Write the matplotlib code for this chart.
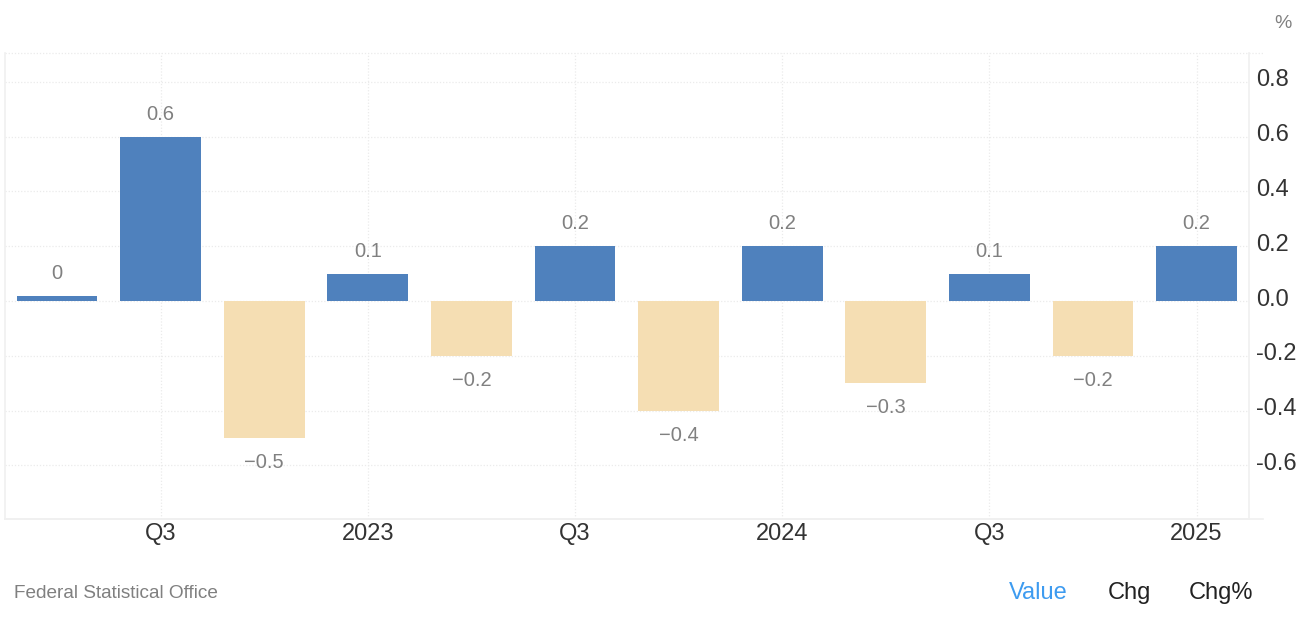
import matplotlib
matplotlib.use('Agg')
import matplotlib.pyplot as plt
from matplotlib.transforms import ScaledTranslation

# values
quarters = [0, 1, 2, 3, 4, 5, 6, 7, 8, 9, 10, 11]
values = [0.02, 0.6, -0.5, 0.1, -0.2, 0.2, -0.4, 0.2, -0.3, 0.1, -0.2, 0.2]
bar_labels = ['0', '0.6', '\u22120.5', '0.1', '\u22120.2', '0.2', '\u22120.4', '0.2', '\u22120.3', '0.1', '\u22120.2', '0.2']
xtick_pos = [1, 3, 5, 7, 9, 11]
xtick_labels = ['Q3', '2023', 'Q3', '2024', 'Q3', '2025']
yticks = [-0.6, -0.4, -0.2, 0.0, 0.2, 0.4, 0.6, 0.8]

W, H = 1312, 617
plt.rcParams['font.family'] = ['Liberation Sans', 'DejaVu Sans']

fig = plt.figure(figsize=(W / 100, H / 100), dpi=100)
# plot box in pixels: x 5..1249, y 52.5..519
ax = fig.add_axes([5 / W, 1 - 519 / H, (1249 - 5) / W, (519 - 52.5) / H])

colors = ['#4f81bd' if v >= 0 else '#f5deb3' for v in values]
ax.bar(quarters, values, width=0.78, color=colors, zorder=3)

ax.set_xlim(-0.502, 11.506)
# 0.0 sits at y=301, 274 px per unit
ax.set_ylim(-0.7956, 0.907)

for q, v, lab in zip(quarters, values, bar_labels):
    if v >= 0:
        ax.annotate(lab, (q, v), xytext=(0, 13), textcoords='offset pixels', ha='center', va='bottom',
                    fontsize=14.5, color='#808080', zorder=4)
    else:
        ax.annotate(lab, (q, v), xytext=(0, -15), textcoords='offset pixels', ha='center', va='top',
                    fontsize=14.5, color='#808080', zorder=4)

ax.yaxis.tick_right()
ax.set_yticks(yticks)
ax.set_yticklabels(['%.1f' % y if y >= 0 else '-%.1f' % abs(y) for y in yticks], fontsize=17, color='#333333')
ax.set_xticks(xtick_pos)
ax.set_xticklabels(xtick_labels, fontsize=17, color='#333333')
ax.tick_params(axis='both', length=0)
ax.tick_params(axis='x', pad=3)
ax.tick_params(axis='y', pad=5)

# y labels sit a little above their gridlines
for lab in ax.get_yticklabels():
    lab.set_transform(lab.get_transform() + ScaledTranslation(0, 0.04, fig.dpi_scale_trans))

ax.grid(True, color='#ebebeb', linewidth=0.9, linestyle=(0, (1, 1.5)), zorder=0)
ax.set_axisbelow(True)
ax.spines['top'].set_visible(False)
for side in ['left', 'right', 'bottom']:
    ax.spines[side].set_color('#f0f0f0')
    ax.spines[side].set_linewidth(1.2)

# top and bottom rules run on past the plot box
ax.axhline(0.907, xmax=1 + 14 / 1244, color='#ebebeb', linewidth=0.9, linestyle=(0, (1, 1.5)), clip_on=False)
ax.axhline(-0.7956, xmax=1 + 14 / 1244, color='#f0f0f0', linewidth=1.2, clip_on=False)

fig.text(1283 / W, 1 - 24 / H, '%', fontsize=14, color='#808080', ha='center', va='center')
fig.text(14 / W, 1 - 594 / H, 'Federal Statistical Office', fontsize=13.7, color='#808080', ha='left', va='center')
fig.text(1038 / W, 1 - 593 / H, 'Value', fontsize=17, color='#3d9bf0', ha='center', va='center')
fig.text(1129 / W, 1 - 593 / H, 'Chg', fontsize=17, color='#222222', ha='center', va='center')
fig.text(1221 / W, 1 - 593 / H, 'Chg%', fontsize=17, color='#222222', ha='center', va='center')

fig.savefig('out.png', dpi=100)
